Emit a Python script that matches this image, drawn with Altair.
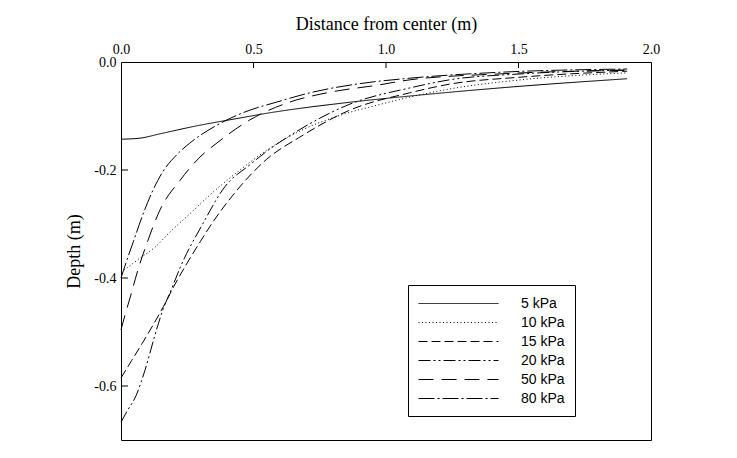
import altair as alt
import pandas as pd

series = ["5 kPa", "10 kPa", "15 kPa", "20 kPa", "50 kPa", "80 kPa"]
dashes = [[1, 0], [1, 2.5], [9, 4], [12, 3, 2, 3, 2, 3], [15, 8], [16, 3, 2, 3]]

# distance from center (m) and depth (m) for each load
x_5 = [0, 0.072, 0.147, 0.298, 0.423, 0.562, 0.838, 1.09, 1.48, 1.91]
d_5 = [-0.143, -0.141, -0.133, -0.117, -0.106, -0.094, -0.076, -0.063, -0.046, -0.031]

x_10 = [0, 0.026, 0.072, 0.128, 0.185, 0.26, 0.336, 0.449, 0.551, 0.675, 0.838, 0.966, 1.09, 1.24, 1.51, 1.91]
d_10 = [-0.389, -0.380, -0.363, -0.343, -0.315, -0.281, -0.246, -0.200, -0.163, -0.128, -0.097, -0.080, -0.065, -0.050, -0.033, -0.020]

x_15 = [0, 0.04, 0.08, 0.12, 0.16, 0.20, 0.25, 0.30, 0.35, 0.42, 0.55, 0.675, 0.864, 1.09, 1.24, 1.51, 1.91]
d_15 = [-0.585, -0.553, -0.521, -0.488, -0.453, -0.415, -0.372, -0.332, -0.294, -0.248, -0.180, -0.139, -0.089, -0.057, -0.041, -0.028, -0.017]

x_20 = [0, 0.026, 0.053, 0.091, 0.128, 0.158, 0.192, 0.223, 0.306, 0.392, 0.487, 0.551, 0.675, 0.864, 1.09, 1.24, 1.51, 1.91]
d_20 = [-0.667, -0.644, -0.622, -0.570, -0.506, -0.459, -0.419, -0.381, -0.302, -0.231, -0.190, -0.165, -0.125, -0.078, -0.048, -0.033, -0.022, -0.015]

x_50 = [0, 0.015, 0.034, 0.064, 0.102, 0.147, 0.223, 0.298, 0.362, 0.487, 0.626, 0.777, 0.966, 1.09, 1.43, 1.91]
d_50 = [-0.496, -0.469, -0.437, -0.385, -0.330, -0.274, -0.219, -0.176, -0.150, -0.107, -0.076, -0.057, -0.043, -0.033, -0.022, -0.015]

x_80 = [0, 0.02, 0.045, 0.083, 0.12, 0.158, 0.21, 0.26, 0.362, 0.46, 0.589, 0.713, 0.902, 1.09, 1.43, 1.91]
d_80 = [-0.400, -0.370, -0.335, -0.282, -0.238, -0.203, -0.172, -0.150, -0.117, -0.094, -0.074, -0.057, -0.040, -0.030, -0.019, -0.013]

x_labels = [0, 0.5, 1.0, 1.5, 2.0]
y_labels = [0, -0.2, -0.4, -0.6]
x_ticks = [0.5, 1.0, 1.5]
y_ticks = [-0.2, -0.4, -0.6]

xs = [x_5, x_10, x_15, x_20, x_50, x_80]
ds = [d_5, d_10, d_15, d_20, d_50, d_80]
rows = []
for name, xv, dv in zip(series, xs, ds):
    for i, (a, b) in enumerate(zip(xv, dv)):
        rows.append({"series": name, "x": a, "depth": b, "order": i})
df = pd.DataFrame(rows)

xscale = alt.Scale(domain=[0, 2], nice=False, zero=False)
yscale = alt.Scale(domain=[-0.7, 0], nice=False, zero=False)

serif = "Liberation Serif"
sans = "Liberation Sans"

xaxis = alt.Axis(orient="top", title="Distance from center (m)", values=x_labels,
                 format=".1f", labelFlush=False, tickSize=0, labelPadding=6, domain=False,
                 grid=False, titlePadding=9)
yaxis = alt.Axis(title="Depth (m)", values=y_labels,
                 labelExpr="datum.value < 0 ? '-' + format(-datum.value, '.1f') : format(datum.value, '.1f')",
                 tickSize=0, labelPadding=5, domain=False, grid=False, titlePadding=10)

lines = alt.Chart(df).mark_line(color="black", strokeWidth=1, interpolate="monotone").encode(
    x=alt.X("x:Q", scale=xscale, axis=xaxis),
    y=alt.Y("depth:Q", scale=yscale, axis=yaxis),
    strokeDash=alt.StrokeDash("series:N", scale=alt.Scale(domain=series, range=dashes),
                              sort=series,
                              legend=alt.Legend(title=None, orient="none", legendX=287, legendY=223,
                                                strokeColor="black", fillColor="white", padding=10,
                                                symbolType="M-1,0H9", symbolSize=256, symbolStrokeWidth=1,
                                                symbolStrokeColor="black", symbolFillColor="transparent",
                                                labelFont=sans, labelFontSize=14,
                                                labelColor="black", labelOffset=86, rowPadding=3,
                                                cornerRadius=0)),
    detail="series:N",
    order="order:Q",
)

xt = alt.Chart(pd.DataFrame({"x": x_ticks})).mark_rule(color="black", strokeWidth=1).encode(
    x=alt.X("x:Q", scale=xscale, axis=xaxis),
    y=alt.value(0), y2=alt.value(6),
)
yt = alt.Chart(pd.DataFrame({"depth": y_ticks})).mark_rule(color="black", strokeWidth=1).encode(
    y=alt.Y("depth:Q", scale=yscale, axis=yaxis),
    x=alt.value(0), x2=alt.value(7),
)

chart = alt.layer(lines, xt, yt).properties(
    width=530, height=378,
    autosize=alt.AutoSizeParams(type="none"),
    padding={"left": 121, "top": 62, "right": 86, "bottom": 18},
    background="white",
).configure_view(stroke="black", strokeWidth=1).configure_axis(
    labelFont=serif, labelFontSize=14, labelColor="black",
    titleFont=serif, titleFontSize=18, titleFontWeight="normal", titleColor="black",
)

chart.save("out.html", embed_options={"renderer": "svg", "actions": False})
